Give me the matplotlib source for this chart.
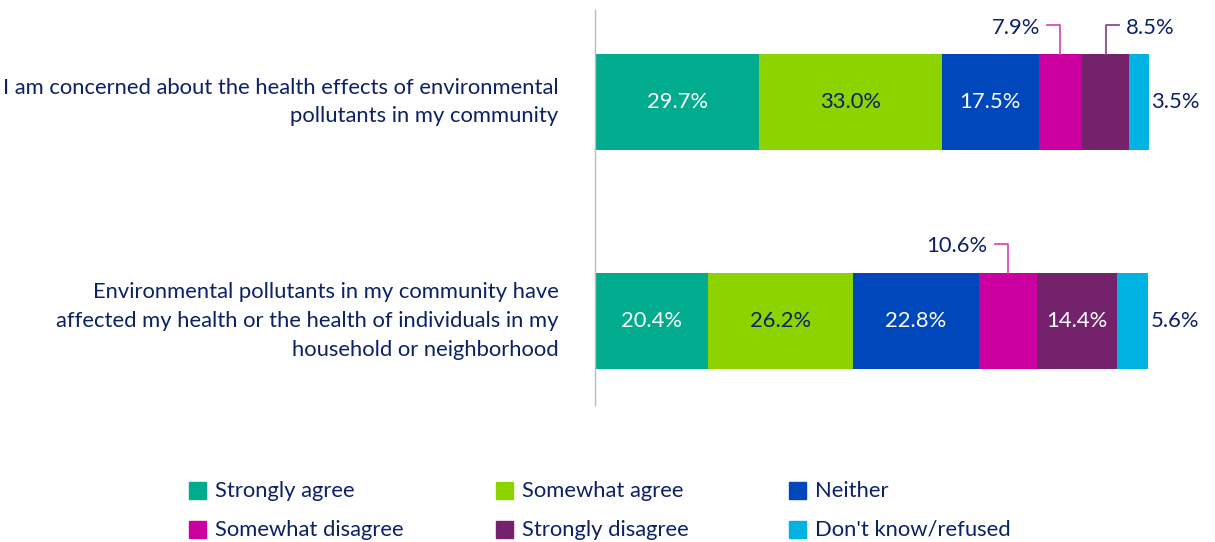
import numpy as np
import matplotlib.pyplot as plt
from matplotlib.patches import Rectangle

plt.rcParams['font.family'] = ['Lato', 'DejaVu Sans']

questions = [
    "I am concerned about the health effects of environmental\npollutants in my community",
    "Environmental pollutants in my community have\naffected my health or the health of individuals in my\nhousehold or neighborhood",
]
responses = ["Strongly agree", "Somewhat agree", "Neither",
             "Somewhat disagree", "Strongly disagree", "Don't know/refused"]
values = np.array([
    [29.7, 33.0, 17.5, 7.9, 8.5, 3.5],
    [20.4, 26.2, 22.8, 10.6, 14.4, 5.6],
])
colors = ["#00AB8E", "#8DD300", "#0047BB", "#CC00A0", "#74226C", "#00B3E3"]
label_colors = ["white", "#0C2166", "white", "white", "white", "white"]
navy = "#0C2166"
fs = 15.8

fig = plt.figure(figsize=(12.15, 5.42), dpi=100)
W, H = 1215, 542
ax = fig.add_axes([595 / W, 1 - 405 / H, 620 / W, 395 / H])
px_per_pct = 5.53
ax.set_xlim(0, 620 / px_per_pct)
ax.set_ylim(1.384, -0.42)
bar_h = 0.44

ypos = np.arange(len(questions))
for r in range(len(questions)):
    left = 0
    for c, v in enumerate(values[r]):
        ax.barh(ypos[r], v, left=left, height=bar_h, color=colors[c], linewidth=0)
        mid = left + v / 2
        # big segments get their value inside, small ones outside
        if v >= 12:
            ax.text(mid, ypos[r], f"{v:.1f}%", ha='center', va='center',
                    color=label_colors[c], fontsize=fs)
        left += v

def leader(ax, x_seg, y, text, color, side):
    top = y - bar_h / 2
    y_txt = top - 0.13
    dx = 2.4
    if side == 'left':
        ax.plot([x_seg, x_seg, x_seg - dx], [top, y_txt, y_txt], color=color, lw=1.3)
        ax.text(x_seg - dx - 1.3, y_txt + 0.01, text, ha='right', va='center',
                color=navy, fontsize=fs)
    else:
        ax.plot([x_seg, x_seg, x_seg + dx], [top, y_txt, y_txt], color=color, lw=1.3)
        ax.text(x_seg + dx + 1.3, y_txt + 0.01, text, ha='left', va='center',
                color=navy, fontsize=fs)

cum = np.cumsum(values, axis=1)
# small disagree segments are labelled above the bar
leader(ax, cum[0, 3] - values[0, 3] / 2, ypos[0], f"{values[0, 3]:.1f}%", "#D94DB8", 'left')
leader(ax, cum[0, 4] - values[0, 4] / 2, ypos[0], f"{values[0, 4]:.1f}%", "#8E4A87", 'right')
leader(ax, cum[1, 3] - values[1, 3] / 2, ypos[1], f"{values[1, 3]:.1f}%", "#D94DB8", 'left')
# don't know values to the right of each bar
for r in range(len(questions)):
    ax.text(cum[r, -1] + 4.9, ypos[r], f"{values[r, -1]:.1f}%", ha='center', va='center',
            color=navy, fontsize=fs)

for r, q in enumerate(questions):
    ax.text(-6.6, ypos[r], q, ha='right', va='center', color=navy, fontsize=fs,
            linespacing=1.55)

for s in ['top', 'right', 'bottom']:
    ax.spines[s].set_visible(False)
ax.spines['left'].set_color('#BBBBBB')
ax.spines['left'].set_linewidth(1.0)
ax.set_xticks([])
ax.set_yticks([])

# legend laid out in two rows of three
col_x = [190, 497, 790]
row_y = [491, 530]
for i, name in enumerate(responses):
    x = col_x[i % 3]
    y = row_y[i // 3]
    fig.patches.append(Rectangle(((x - 1) / W, 1 - (y + 8) / H), 17 / W, 17 / H,
                                 transform=fig.transFigure, color=colors[i], figure=fig))
    fig.text((x + 25) / W, 1 - y / H, name, ha='left', va='center', color=navy, fontsize=fs)

fig.savefig("out.png", dpi=100)
